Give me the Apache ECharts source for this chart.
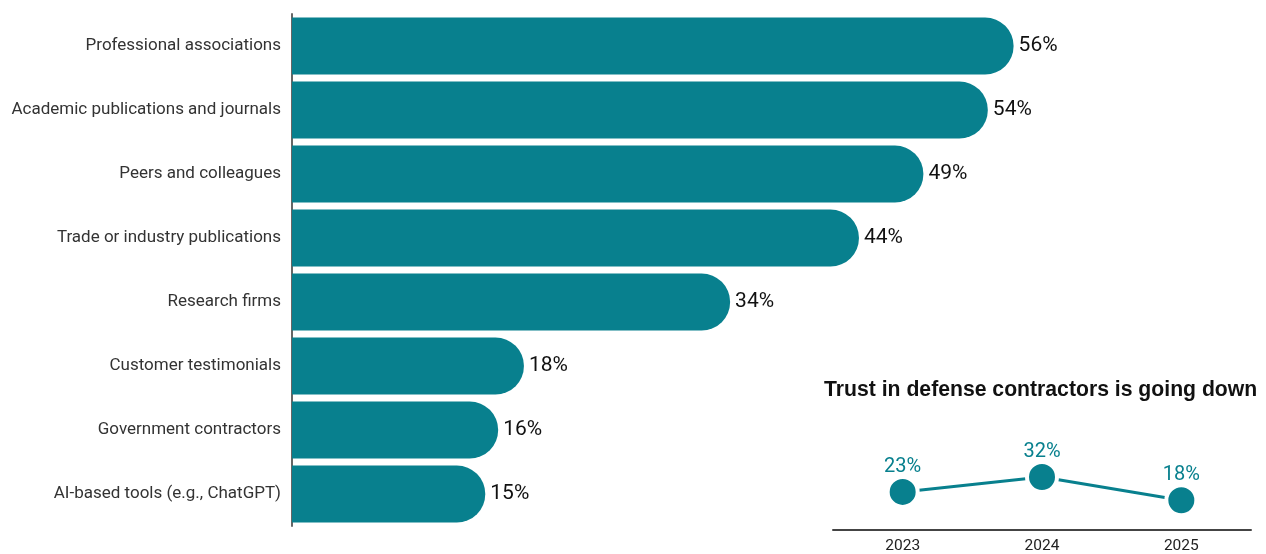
<!DOCTYPE html>
<html><head><meta charset="utf-8">
<script src="https://cdn.jsdelivr.net/npm/echarts@6/dist/echarts.min.js"></script>
<style>html,body{margin:0;padding:0;background:#fff}#c{width:1266px;height:554px}</style>
</head><body><div id="c"></div>
<script>
const categories = ["Professional associations","Academic publications and journals","Peers and colleagues","Trade or industry publications","Research firms","Customer testimonials","Government contractors","AI-based tools (e.g., ChatGPT)"];
const values = [56,54,49,44,34,18,16,15];
const insetTitle = "Trust in defense contractors is going down";
const years = ["2023","2024","2025"];
const trust = [23,32,18];

const teal = "#08808e";
const chart = echarts.init(document.getElementById('c'));
chart.setOption({
  animation:false,
  backgroundColor:'#fff',
  title:{text:insetTitle,left:819,top:375,textStyle:{fontFamily:'Liberation Sans',fontWeight:'bold',fontSize:21.2,color:'#111'}},
  grid:[
    {left:292,top:14,width:902,height:512},
    {left:833,top:434,width:418,height:97}
  ],
  xAxis:[
    {gridIndex:0,type:'value',min:0,max:70,show:false},
    {gridIndex:1,type:'category',data:years,axisLine:{lineStyle:{color:'#444',width:2}},axisTick:{show:false},
     axisLabel:{fontFamily:'Roboto',fontSize:15.5,color:'#222',margin:8}}
  ],
  yAxis:[
    {gridIndex:0,type:'category',data:categories,inverse:true,axisLine:{lineStyle:{color:'#666',width:2}},axisTick:{show:false},
     axisLabel:{fontFamily:'Roboto',fontSize:17,color:'#333',margin:11}},
    {gridIndex:1,type:'value',min:0,max:58,show:false}
  ],
  series:[
    {type:'bar',xAxisIndex:0,yAxisIndex:0,data:values,barCategoryGap:'11%',
     itemStyle:{color:teal,borderRadius:[0,29,29,0]},
     label:{show:true,position:'right',distance:5,formatter:'{c}%',fontFamily:'Roboto',fontSize:21,color:'#111'}},
    {type:'line',xAxisIndex:1,yAxisIndex:1,data:trust,symbol:'circle',symbolSize:30,
     lineStyle:{color:teal,width:3},
     itemStyle:{color:teal,borderColor:'#fff',borderWidth:4},
     label:{show:true,position:'top',distance:-2,formatter:'{c}%',fontFamily:'Roboto',fontSize:20,color:teal}}
  ]
});
</script></body></html>
